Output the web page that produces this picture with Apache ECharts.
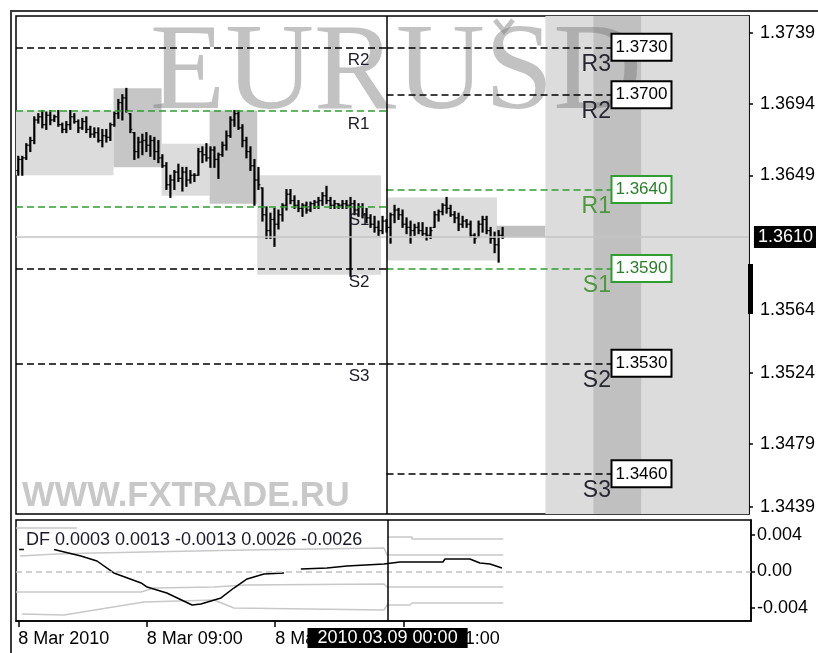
<!DOCTYPE html>
<html>
<head>
<meta charset="utf-8">
<title>EURUSD pivot levels</title>
<style>
  html, body { margin: 0; padding: 0; background: #fff; }
  #container { width: 818px; height: 653px; }
</style>
</head>
<body>
<div id="container"></div>
<script src="https://cdn.jsdelivr.net/npm/echarts@6/dist/echarts.min.js"></script>
<script>
// ---- values ----
var symbolName = 'EURUSD';
var siteName = 'WWW.FXTRADE.RU';

// price bars, one per bar index 0..121
var barOpen = [
  1.3652, 1.3659, 1.3660, 1.3668, 1.3671, 1.3684, 1.3686, 1.3681, 1.3687, 1.3684,
  1.3686, 1.3681, 1.3678, 1.3681, 1.3686, 1.3683, 1.3679, 1.3683, 1.3678, 1.3675,
  1.3676, 1.3671, 1.3674, 1.3673, 1.3681, 1.3688, 1.3695, 1.3698, 1.3688, 1.3676,
  1.3664, 1.3670, 1.3671, 1.3668, 1.3671, 1.3664, 1.3660, 1.3655, 1.3643, 1.3646,
  1.3651, 1.3647, 1.3651, 1.3646, 1.3649, 1.3649, 1.3664, 1.3662, 1.3660, 1.3665,
  1.3659, 1.3662, 1.3668, 1.3674, 1.3684, 1.3688, 1.3679, 1.3671, 1.3664, 1.3655,
  1.3646, 1.3641, 1.3624, 1.3614, 1.3621, 1.3618, 1.3624, 1.3630, 1.3637, 1.3633,
  1.3630, 1.3628, 1.3630, 1.3627, 1.3631, 1.3632, 1.3633, 1.3636, 1.3633, 1.3630,
  1.3631, 1.3630, 1.3631, 1.3630, 1.3631, 1.3627, 1.3629, 1.3624, 1.3622, 1.3618,
  1.3616, 1.3614, 1.3620, 1.3616, 1.3624, 1.3627, 1.3624, 1.3618, 1.3616, 1.3614,
  1.3616, 1.3614, 1.3612, 1.3611, 1.3616, 1.3624, 1.3626, 1.3630, 1.3628, 1.3624,
  1.3622, 1.3618, 1.3620, 1.3618, 1.3611, 1.3610, 1.3618, 1.3621, 1.3614, 1.3609,
  1.3605, 1.3611
];
var barHigh = [
  1.3661, 1.3661, 1.3669, 1.3673, 1.3686, 1.3688, 1.3690, 1.3689, 1.3690, 1.3687,
  1.3690, 1.3682, 1.3683, 1.3690, 1.3688, 1.3684, 1.3685, 1.3686, 1.3680, 1.3679,
  1.3679, 1.3678, 1.3678, 1.3682, 1.3689, 1.3697, 1.3700, 1.3704, 1.3688, 1.3676,
  1.3673, 1.3675, 1.3676, 1.3674, 1.3673, 1.3671, 1.3662, 1.3657, 1.3649, 1.3652,
  1.3656, 1.3654, 1.3654, 1.3652, 1.3650, 1.3666, 1.3667, 1.3669, 1.3667, 1.3667,
  1.3663, 1.3670, 1.3677, 1.3686, 1.3690, 1.3690, 1.3681, 1.3673, 1.3667, 1.3659,
  1.3654, 1.3641, 1.3629, 1.3625, 1.3628, 1.3627, 1.3631, 1.3640, 1.3640, 1.3636,
  1.3633, 1.3631, 1.3632, 1.3632, 1.3633, 1.3635, 1.3638, 1.3642, 1.3635, 1.3633,
  1.3631, 1.3633, 1.3633, 1.3635, 1.3633, 1.3631, 1.3631, 1.3628, 1.3624, 1.3623,
  1.3620, 1.3623, 1.3621, 1.3625, 1.3630, 1.3628, 1.3627, 1.3622, 1.3620, 1.3618,
  1.3619, 1.3619, 1.3616, 1.3616, 1.3626, 1.3627, 1.3631, 1.3635, 1.3630, 1.3626,
  1.3625, 1.3623, 1.3621, 1.3620, 1.3612, 1.3620, 1.3623, 1.3623, 1.3616, 1.3613,
  1.3614, 1.3616
];
var barLow = [
  1.3649, 1.3649, 1.3659, 1.3664, 1.3669, 1.3682, 1.3679, 1.3678, 1.3681, 1.3683,
  1.3680, 1.3676, 1.3676, 1.3678, 1.3682, 1.3676, 1.3678, 1.3676, 1.3673, 1.3673,
  1.3670, 1.3667, 1.3670, 1.3671, 1.3680, 1.3685, 1.3684, 1.3689, 1.3676, 1.3659,
  1.3660, 1.3662, 1.3664, 1.3661, 1.3659, 1.3657, 1.3654, 1.3640, 1.3635, 1.3640,
  1.3645, 1.3639, 1.3642, 1.3644, 1.3645, 1.3649, 1.3657, 1.3658, 1.3654, 1.3654,
  1.3647, 1.3661, 1.3665, 1.3673, 1.3680, 1.3678, 1.3667, 1.3660, 1.3652, 1.3630,
  1.3640, 1.3620, 1.3609, 1.3609, 1.3604, 1.3615, 1.3620, 1.3627, 1.3631, 1.3628,
  1.3626, 1.3623, 1.3625, 1.3626, 1.3628, 1.3628, 1.3630, 1.3631, 1.3628, 1.3628,
  1.3628, 1.3628, 1.3628, 1.3585, 1.3624, 1.3623, 1.3622, 1.3619, 1.3616, 1.3613,
  1.3611, 1.3612, 1.3613, 1.3606, 1.3619, 1.3621, 1.3616, 1.3612, 1.3606, 1.3611,
  1.3612, 1.3611, 1.3608, 1.3609, 1.3616, 1.3620, 1.3624, 1.3625, 1.3623, 1.3619,
  1.3614, 1.3616, 1.3616, 1.3610, 1.3606, 1.3610, 1.3613, 1.3612, 1.3606, 1.3600,
  1.3594, 1.3609
];
var barClose = [
  1.3659, 1.3660, 1.3668, 1.3671, 1.3684, 1.3686, 1.3681, 1.3687, 1.3684, 1.3686,
  1.3681, 1.3678, 1.3681, 1.3686, 1.3683, 1.3679, 1.3683, 1.3678, 1.3675, 1.3676,
  1.3671, 1.3674, 1.3673, 1.3681, 1.3688, 1.3695, 1.3698, 1.3690, 1.3678, 1.3664,
  1.3670, 1.3671, 1.3668, 1.3671, 1.3664, 1.3660, 1.3655, 1.3643, 1.3646, 1.3651,
  1.3647, 1.3651, 1.3646, 1.3649, 1.3649, 1.3664, 1.3662, 1.3660, 1.3665, 1.3659,
  1.3662, 1.3668, 1.3674, 1.3684, 1.3688, 1.3679, 1.3671, 1.3664, 1.3655, 1.3646,
  1.3643, 1.3624, 1.3614, 1.3621, 1.3618, 1.3624, 1.3630, 1.3637, 1.3633, 1.3630,
  1.3628, 1.3630, 1.3627, 1.3631, 1.3632, 1.3633, 1.3636, 1.3633, 1.3630, 1.3631,
  1.3630, 1.3631, 1.3630, 1.3631, 1.3627, 1.3629, 1.3624, 1.3622, 1.3618, 1.3616,
  1.3614, 1.3620, 1.3616, 1.3624, 1.3627, 1.3624, 1.3618, 1.3616, 1.3614, 1.3616,
  1.3614, 1.3612, 1.3611, 1.3614, 1.3624, 1.3626, 1.3630, 1.3628, 1.3624, 1.3622,
  1.3618, 1.3620, 1.3618, 1.3611, 1.3609, 1.3618, 1.3621, 1.3614, 1.3609, 1.3605,
  1.3611, 1.3610
];

// axis ranges (bar index / price / indicator)
var xMin = -0.57, xMax = 182.54;
var priceMin = 1.34346, priceMax = 1.37498;
var dfMin = -0.005425, dfMax = 0.005644;

var priceTicks = [1.3739, 1.3694, 1.3649, 1.3564, 1.3524, 1.3479, 1.3439];
var bidPrice = 1.3610;
var dfTicks = [0.004, 0, -0.004];
var dfTickLabels = ['0.004', '0.00', '-0.004'];
var timeTicks = [0, 32, 64, 96];
var timeLabels = ['8 Mar 2010', '8 Mar 09:00', '8 Mar 17:00', '9 Mar 01:00'];
var cursorBar = 92;
var cursorTime = '2010.03.09 00:00';

// pivot levels: previous day (left of cursor) and current day (right of cursor)
var prevNames = ['R2', 'R1', 'S1', 'S2', 'S3'];
var prevLevels = [1.3730, 1.3690, 1.3629, 1.3590, 1.3530];
var levelNames = ['R3', 'R2', 'R1', 'S1', 'S2', 'S3'];
var levelValues = [1.3730, 1.3700, 1.3640, 1.3590, 1.3530, 1.3460];
var levelEndBar = 148.2;

// session boxes: bar range and price range
var boxFrom = [xMin, 23.8, 35.8, 47.8, 59.7, 91.9, 119.5, 131.7, 143.7];
var boxTo = [23.8, 35.8, 47.8, 59.7, 90.6, 119.6, 131.7, xMax, 155.6];
var boxHigh = [1.3690, 1.3704, 1.3669, 1.3690, 1.3649, 1.3635, 1.3617, priceMax, priceMax];
var boxLow = [1.3649, 1.3654, 1.3636, 1.3631, 1.3586, 1.3595, 1.3610, priceMin, priceMin];
var boxKind = ['a', 'b', 'a', 'b', 'a', 'a', 'c', 'a', 'c'];

// DF indicator: bar index / value, null = gap
var dfLegend = [0.0003, 0.0013, -0.0013, 0.0026, -0.0026];
var dfX = [0.2, 1.4, null, 8.9, 15.6, 19.6, 23.8, 30.6, 32.1, 37.0, 43.3, 45.5, 50.5, 53.7, 57.0, 61.2, 66.2, null,
  70.4, 76.9, 81.9, 91.1, 95.1, 105.8, 106.3, 112.5, 115.0, 117.5, 120.5];
var dfY = [0.0024, 0.0024, null, 0.0024, 0.0017, 0.00115, -0.00016, -0.00126, -0.0017, -0.00236, -0.00367, -0.00356,
  -0.0029, -0.00181, -0.00082, -0.00027, -0.00016, null, 0.00027, 0.00038, 0.0006, 0.00082, 0.00104, 0.00104,
  0.00137, 0.00137, 0.00093, 0.00082, 0.00038];
var bandAX = [xMin, 14.6, null, 91.9, 98.1, 98.1, 120.8];
var bandAY = [0.00477, 0.00477, null, 0.00378, 0.00378, 0.00356, 0.00356];
var bandBX = [0.4, 9.6, 18.9, 57.0, 91.1, 91.9, 120.8];
var bandBY = [0.0017, 0.00192, 0.00203, 0.00236, 0.00258, 0.00181, 0.00181];
var bandCX = [xMin, 30.6, 33.8, 48.8, 56.5, 91.1, 91.9, 120.8];
var bandCY = [-0.00225, -0.00225, -0.00181, -0.0017, -0.00148, -0.00137, -0.0017, -0.0017];
var bandDX = [0.9, 11.4, 31.3, 48.8, 53.7, 91.1, 91.9, 97.6, 98.1, 120.8];
var bandDY = [-0.00466, -0.00477, -0.00334, -0.00312, -0.004, -0.00422, -0.00367, -0.00367, -0.00345, -0.00345];

// ---- chart ----
var FONT = 'Liberation Sans';
var GREEN = '#2e9e2e';
var WATERMARK = 'rgba(120,120,120,0.45)';
var shade = { a: '#dcdcdc', b: '#c6c6c6', c: '#c0c0c0' };

function isGreen(n) { return n === 'R1' || n === 'S1'; }

function pairs(xs, ys) {
  return xs.map(function (x, k) { return x === null ? ['-', '-'] : [x, ys[k]]; });
}

var boxData = boxFrom.map(function (f, k) { return [f, boxTo[k], boxHigh[k], boxLow[k]]; });
var barData = barOpen.map(function (o, k) { return [k, o, barHigh[k], barLow[k], barClose[k]]; });

function renderBox(params, api) {
  var p1 = api.coord([api.value(0), api.value(2)]);
  var p2 = api.coord([api.value(1), api.value(3)]);
  return {
    type: 'rect',
    shape: { x: p1[0], y: p1[1], width: p2[0] - p1[0], height: p2[1] - p1[1] },
    style: { fill: shade[boxKind[params.dataIndex]] }
  };
}

function renderBar(params, api) {
  var i = api.value(0);
  var o = api.coord([i, api.value(1)]);
  var h = api.coord([i, api.value(2)]);
  var l = api.coord([i, api.value(3)]);
  var c = api.coord([i, api.value(4)]);
  var x = h[0];
  return {
    type: 'group',
    children: [
      { type: 'line', shape: { x1: x, y1: h[1] - 0.5, x2: x, y2: l[1] + 0.5 }, style: { stroke: '#000', lineWidth: 2.2 } },
      { type: 'line', shape: { x1: x - 2, y1: o[1], x2: x, y2: o[1] }, style: { stroke: '#000', lineWidth: 1.2 } },
      { type: 'line', shape: { x1: x, y1: c[1], x2: x + 2, y2: c[1] }, style: { stroke: '#000', lineWidth: 1.2 } }
    ]
  };
}

var levelLines = [];
prevNames.forEach(function (n, k) {
  levelLines.push([
    {
      coord: [xMin, prevLevels[k]],
      lineStyle: { color: isGreen(n) ? GREEN : '#000', type: [7, 4], width: 1.5 },
      label: { show: true, position: 'insideEndBottom', distance: [17, 5], formatter: n, color: '#1c1c28', fontSize: 17, fontFamily: FONT }
    },
    { coord: [cursorBar, prevLevels[k]] }
  ]);
});
levelNames.forEach(function (n, k) {
  var col = isGreen(n) ? GREEN : '#000';
  levelLines.push([
    {
      coord: [cursorBar, levelValues[k]],
      lineStyle: { color: col, type: [7, 4], width: 1.5 },
      label: {
        show: true, position: 'end', distance: 1, formatter: levelValues[k].toFixed(4),
        color: isGreen(n) ? '#2a7f2a' : '#000', fontSize: 17, lineHeight: 18, fontFamily: FONT,
        backgroundColor: '#fff', borderColor: col, borderWidth: 2, padding: [4, 3, 3, 3]
      }
    },
    { coord: [levelEndBar, levelValues[k]] }
  ]);
});

// names of today's levels, just under the end of each line
var levelTags = levelNames.map(function (n, k) {
  return {
    coord: [levelEndBar, levelValues[k]],
    symbol: 'circle', symbolSize: 1, itemStyle: { color: 'rgba(0,0,0,0)' },
    label: {
      show: true, position: [0, 6], align: 'right', verticalAlign: 'top', formatter: n,
      color: isGreen(n) ? '#4b9a3a' : '#262630', fontSize: 23, fontFamily: FONT
    }
  };
});

var dom = document.getElementById('container');
var myChart = echarts.init(dom, null, { renderer: 'canvas' });

var bandStyle = { color: '#c8c8c8', width: 1.5 };

var option = {
  animation: false,
  backgroundColor: '#fff',
  textStyle: { fontFamily: FONT },
  title: {
    text: 'DF ' + dfLegend.map(function (v) { return v.toFixed(4); }).join(' '),
    left: 26, top: 531, padding: 0,
    textStyle: { fontSize: 18, fontWeight: 'normal', color: '#1a1a2a', fontFamily: FONT }
  },
  grid: [
    { left: 16, top: 16, width: 735, height: 498, show: true, backgroundColor: '#fff', borderColor: '#000', borderWidth: 1.5 },
    { left: 16, top: 520, width: 735, height: 101, show: true, backgroundColor: '#fff', borderColor: '#000', borderWidth: 1.5 }
  ],
  xAxis: [
    { type: 'value', gridIndex: 0, min: xMin, max: xMax, show: false },
    {
      type: 'value', gridIndex: 1, min: xMin, max: xMax,
      axisLine: { show: true, onZero: false, lineStyle: { color: '#000', width: 1.5 } },
      axisTick: { show: true, customValues: timeTicks, length: 6, lineStyle: { color: '#000', width: 1.5 } },
      axisLabel: {
        customValues: timeTicks, align: 'left', margin: 9, fontSize: 18, color: '#000', fontFamily: FONT,
        formatter: function (v) { var k = timeTicks.indexOf(v); return k >= 0 ? timeLabels[k] : ''; }
      },
      splitLine: { show: false }
    }
  ],
  yAxis: [
    {
      type: 'value', gridIndex: 0, position: 'right', min: priceMin, max: priceMax,
      axisLine: { show: true, onZero: false, lineStyle: { color: '#000', width: 1.5 } },
      axisTick: { show: true, customValues: priceTicks, length: 4, lineStyle: { color: '#000', width: 1.5 } },
      axisLabel: {
        customValues: priceTicks, margin: 11, fontSize: 18, color: '#000', fontFamily: FONT,
        formatter: function (v) { return v.toFixed(4); }
      },
      splitLine: { show: false }
    },
    {
      type: 'value', gridIndex: 1, position: 'right', min: dfMin, max: dfMax,
      axisLine: { show: true, onZero: false, lineStyle: { color: '#000', width: 1.5 } },
      axisTick: { show: true, customValues: dfTicks, length: 4, lineStyle: { color: '#000', width: 1.5 } },
      axisLabel: {
        customValues: dfTicks, margin: 6, fontSize: 18, color: '#000', fontFamily: FONT,
        formatter: function (v) { var k = dfTicks.indexOf(v); return k >= 0 ? dfTickLabels[k] : ''; }
      },
      splitLine: { show: false }
    }
  ],
  graphic: [
    {
      type: 'text', x: 150, y: 76, z: 1.5, silent: true,
      style: { text: symbolName, font: '123px "Liberation Serif"', fill: WATERMARK, verticalAlign: 'middle', textVerticalAlign: 'middle' }
    },
    // the little hook drawn over the S of the watermark
    { type: 'polyline', z: 1.5, silent: true, shape: { points: [[495, 20], [504, 31], [513, 20]] }, style: { stroke: WATERMARK, lineWidth: 5, fill: null } },
    {
      type: 'text', x: 22, y: 496, z: 1.5, silent: true,
      style: { text: siteName, font: 'bold 34.5px "Liberation Sans"', fill: '#c8c8c8', verticalAlign: 'middle', textVerticalAlign: 'middle' }
    },
    { type: 'rect', z: 10, silent: true, shape: { x: 748, y: 264, width: 5, height: 50 }, style: { fill: '#000' } },
    { type: 'polyline', z: 10, silent: true, shape: { points: [[11, 653], [11, 11], [818, 11]] }, style: { stroke: '#3a3a3a', lineWidth: 2, fill: null } }
  ],
  series: [
    {
      type: 'custom', name: 'sessions', xAxisIndex: 0, yAxisIndex: 0, z: 1,
      renderItem: renderBox, data: boxData, silent: true
    },
    {
      type: 'line', name: 'levels', xAxisIndex: 0, yAxisIndex: 0, z: 2, data: [], clip: false, silent: true,
      markLine: {
        silent: true, symbol: ['none', 'none'], animation: false, precision: 6,
        data: [
          {
            yAxis: bidPrice,
            lineStyle: { color: '#c4c4c4', type: 'solid', width: 1.5 },
            label: {
              show: true, position: 'end', distance: 5, formatter: bidPrice.toFixed(4),
              backgroundColor: '#000', color: '#fff', fontSize: 18, lineHeight: 18, padding: [2, 3, 2, 4], fontFamily: FONT
            }
          }
        ].concat(levelLines)
      },
      markPoint: { silent: true, animation: false, data: levelTags }
    },
    {
      type: 'custom', name: 'EURUSD', xAxisIndex: 0, yAxisIndex: 0, z: 3,
      renderItem: renderBar, data: barData, encode: { x: 0, y: [1, 2, 3, 4] }, silent: true
    },
    {
      type: 'line', name: 'cursor', xAxisIndex: 0, yAxisIndex: 0, z: 4, data: [], clip: false, silent: true,
      markLine: {
        silent: true, symbol: ['none', 'none'], animation: false, precision: 6,
        data: [{ xAxis: cursorBar, lineStyle: { color: '#000', type: 'solid', width: 1.5 }, label: { show: false } }]
      }
    },
    { type: 'line', name: 'bandA', xAxisIndex: 1, yAxisIndex: 1, data: pairs(bandAX, bandAY), symbol: 'none', lineStyle: bandStyle, itemStyle: { color: '#c8c8c8' }, silent: true, z: 2 },
    { type: 'line', name: 'bandB', xAxisIndex: 1, yAxisIndex: 1, data: pairs(bandBX, bandBY), symbol: 'none', lineStyle: bandStyle, itemStyle: { color: '#c8c8c8' }, silent: true, z: 2 },
    { type: 'line', name: 'bandC', xAxisIndex: 1, yAxisIndex: 1, data: pairs(bandCX, bandCY), symbol: 'none', lineStyle: bandStyle, itemStyle: { color: '#c8c8c8' }, silent: true, z: 2 },
    { type: 'line', name: 'bandD', xAxisIndex: 1, yAxisIndex: 1, data: pairs(bandDX, bandDY), symbol: 'none', lineStyle: bandStyle, itemStyle: { color: '#c8c8c8' }, silent: true, z: 2 },
    {
      type: 'line', name: 'DF', xAxisIndex: 1, yAxisIndex: 1, data: pairs(dfX, dfY), symbol: 'none', clip: false,
      lineStyle: { color: '#000', width: 1.5 }, itemStyle: { color: '#000' }, silent: true, z: 3,
      markLine: {
        silent: true, symbol: ['none', 'none'], animation: false, precision: 6,
        data: [
          { yAxis: 0, lineStyle: { color: '#c0c0c0', type: [6, 4], width: 1.5 }, label: { show: false } },
          {
            xAxis: cursorBar, lineStyle: { color: '#000', type: 'solid', width: 1.5 },
            label: {
              show: true, position: 'start', distance: 7, formatter: cursorTime,
              backgroundColor: '#000', color: '#fff', fontSize: 18, lineHeight: 18, padding: [1, 10, 1, 10], fontFamily: FONT
            }
          }
        ]
      }
    }
  ]
};

if (option && typeof option === 'object') {
  myChart.setOption(option);
}

window.addEventListener('resize', myChart.resize);
</script>
</body>
</html>
